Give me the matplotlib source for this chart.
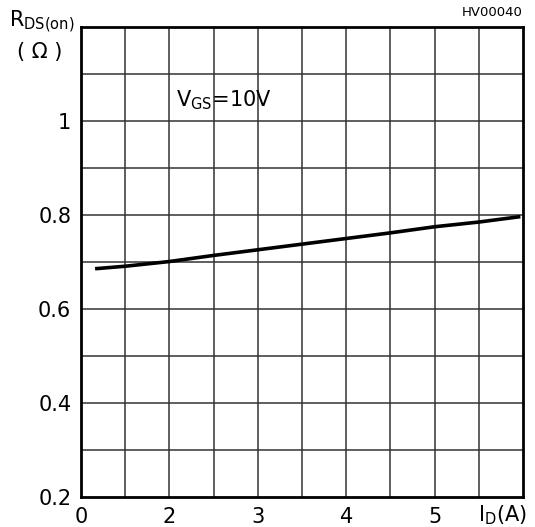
import matplotlib
matplotlib.use('Agg')
import matplotlib.pyplot as plt

# Data
id_a = [1.18, 1.5, 2.0, 2.5, 3.0, 3.5, 4.0, 4.5, 5.0, 5.5, 5.95]
rds_on = [0.686, 0.691, 0.701, 0.714, 0.726, 0.738, 0.750, 0.762, 0.775, 0.785, 0.796]

x_ticks = [1, 2, 3, 4, 5]
x_ticklabels = ['0', '2', '3', '4', '5']
y_ticks = [0.2, 0.4, 0.6, 0.8, 1.0]
y_ticklabels = ['0.2', '0.4', '0.6', '0.8', '1']

W, H = 535, 527
fig = plt.figure(figsize=(W / 100, H / 100), dpi=100)
ax = fig.add_axes([81 / W, (H - 497) / H, (523 - 81) / W, (497 - 27) / H])

ax.plot(id_a, rds_on, color='black', lw=2.6, zorder=3)

ax.set_xlim(1, 6)
ax.set_ylim(0.2, 1.2)
for gx in [1.5 + 0.5 * i for i in range(9)]:
    ax.axvline(gx, color='#333333', lw=1.1, zorder=1)
for gy in [0.3 + 0.1 * i for i in range(9)]:
    ax.axhline(gy, color='#333333', lw=1.1, zorder=1)

for s in ax.spines.values():
    s.set_linewidth(2)
ax.tick_params(length=0, labelsize=15, pad=7)
ax.set_xticks(x_ticks)
ax.set_xticklabels(x_ticklabels)
ax.set_yticks(y_ticks)
ax.set_yticklabels(y_ticklabels)

ax.text(2.07, 1.045, r'V$_{\mathregular{GS}}$=10V', fontsize=15, va='center', ha='left')
fig.text(9 / W, 1 - 22 / H, r'R$_{\mathregular{DS(on)}}$', fontsize=15, va='center', ha='left')
fig.text(40 / W, 1 - 52 / H, '( Ω )', fontsize=15, va='center', ha='center')
fig.text(523 / W, 1 - 13 / H, 'HV00040', fontsize=9.5, va='center', ha='right')
fig.text(478 / W, 1 - 515 / H, r'I$_{\mathregular{D}}$(A)', fontsize=15, va='center', ha='left')

fig.savefig('out.png', dpi=100)
